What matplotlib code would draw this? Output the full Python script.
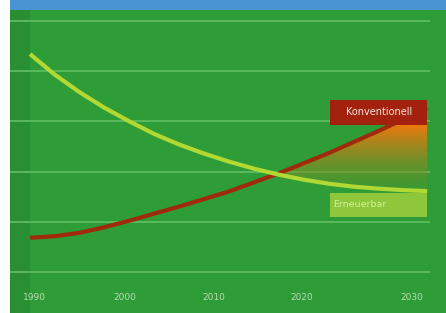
import numpy as np
import matplotlib
matplotlib.use("Agg")
import matplotlib.pyplot as plt
import matplotlib.transforms as mtransforms
from matplotlib.patches import Rectangle
from matplotlib.colors import to_rgb

# Daten (Einheiten willkürlich: 1 Einheit = 1 Gitterlinie)
years = [1990, 1992.5, 1995, 1997.5, 2000, 2002.5, 2005, 2007.5, 2010,
         2012.5, 2015, 2017.5, 2020, 2022.5, 2025, 2027.5, 2030]
erneuerbar = [4.34, 3.93, 3.58, 3.27, 3.00, 2.75, 2.54, 2.36, 2.20,
              2.06, 1.94, 1.84, 1.76, 1.70, 1.66, 1.63, 1.61]
konventionell = [0.68, 0.71, 0.78, 0.89, 1.02, 1.16, 1.30, 1.45, 1.60,
                 1.78, 1.96, 2.16, 2.36, 2.58, 2.80, 3.03, 3.27]
tick_years = [1990, 2000, 2010, 2020, 2030]
grid_levels = [0, 1, 2, 3, 4, 5]

BG = "#2e9c37"
BG_DARK = "#2a8e32"
GRID = "#5dbd5e"
RED = "#a02a0c"
LIME = "#b2d834"
BOX_GREEN = "#8ec63c"

fig = plt.figure(figsize=(4.46, 3.13), dpi=100)
fig.patch.set_facecolor("white")

# blauer Streifen oben
top = fig.add_axes([10 / 446, 1 - 10 / 313, 436 / 446, 10 / 313])
top.set_facecolor("#4a93d3")
top.set_xticks([])
top.set_yticks([])
for s in top.spines.values():
    s.set_visible(False)

ax = fig.add_axes([10 / 446, 0, 436 / 446, 303 / 313])
ax.set_facecolor(BG)
for s in ax.spines.values():
    s.set_visible(False)
ax.set_xticks([])
ax.set_yticks([])

ax.axvspan(1987.98, 1990, color=BG_DARK, lw=0, zorder=0)

# Gitterlinien
ax.hlines(grid_levels, 1987.98, 2030.3, color=GRID, lw=1.3, zorder=1)

x = np.array(years)
yg = np.array(erneuerbar)
yr = np.array(konventionell)

# Farbverlauf zwischen den Kurven nach dem Schnittpunkt
fb = ax.fill_between(x, yg, yr, where=yr >= yg, interpolate=True,
                     color="none", lw=0)
grad = np.zeros((100, 1, 4))
top_c = np.array(to_rgb("#ff760a"))
bot_c = np.array(to_rgb("#3f9a33"))
for i in range(100):
    t = i / 99
    grad[i, 0, :3] = top_c * (1 - t) + bot_c * t
    grad[i, 0, 3] = 1.0 - 0.6 * t
img = ax.imshow(grad, aspect="auto", extent=[2012, 2030, 1.55, 3.0],
                origin="upper", zorder=2, interpolation="bilinear")
img.set_clip_path(fb.get_paths()[0], transform=ax.transData)
ax.set_xlim(1987.98, 2031.9)
ax.set_ylim(-0.82, 5.22)

ax.plot(x, yr, color=RED, lw=3.0, zorder=3, solid_capstyle="butt")
ax.plot(x, yg, color=LIME, lw=3.0, zorder=4, solid_capstyle="butt")

# Beschriftungskästen
ax.add_patch(Rectangle((2020.2, 2.93), 9.8, 0.5, color="#a3220e", lw=0, zorder=5))
ax.text(2025.2, 3.18, "Konventionell", color="#f6e6de", fontsize=7,
        ha="center", va="center", zorder=6)
ax.add_patch(Rectangle((2020.2, 1.10), 9.8, 0.48, color=BOX_GREEN, lw=0, zorder=5))
ax.text(2020.5, 1.34, "Erneuerbar", color="#d6ee9c", fontsize=6.8,
        ha="left", va="center", zorder=6)

# Jahreszahlen
nudges = [4, -5, -15, -26, -15]
blend = mtransforms.blended_transform_factory(ax.transData, ax.transAxes)
for yr_tick, dx in zip(tick_years, nudges):
    tr = mtransforms.offset_copy(blend, fig=fig, x=dx, y=0, units="dots")
    ax.text(yr_tick, 0.05, str(yr_tick), transform=tr, color="#b8dcb0",
            fontsize=6.5, ha="center", va="center")

fig.savefig("out.png", dpi=100)
